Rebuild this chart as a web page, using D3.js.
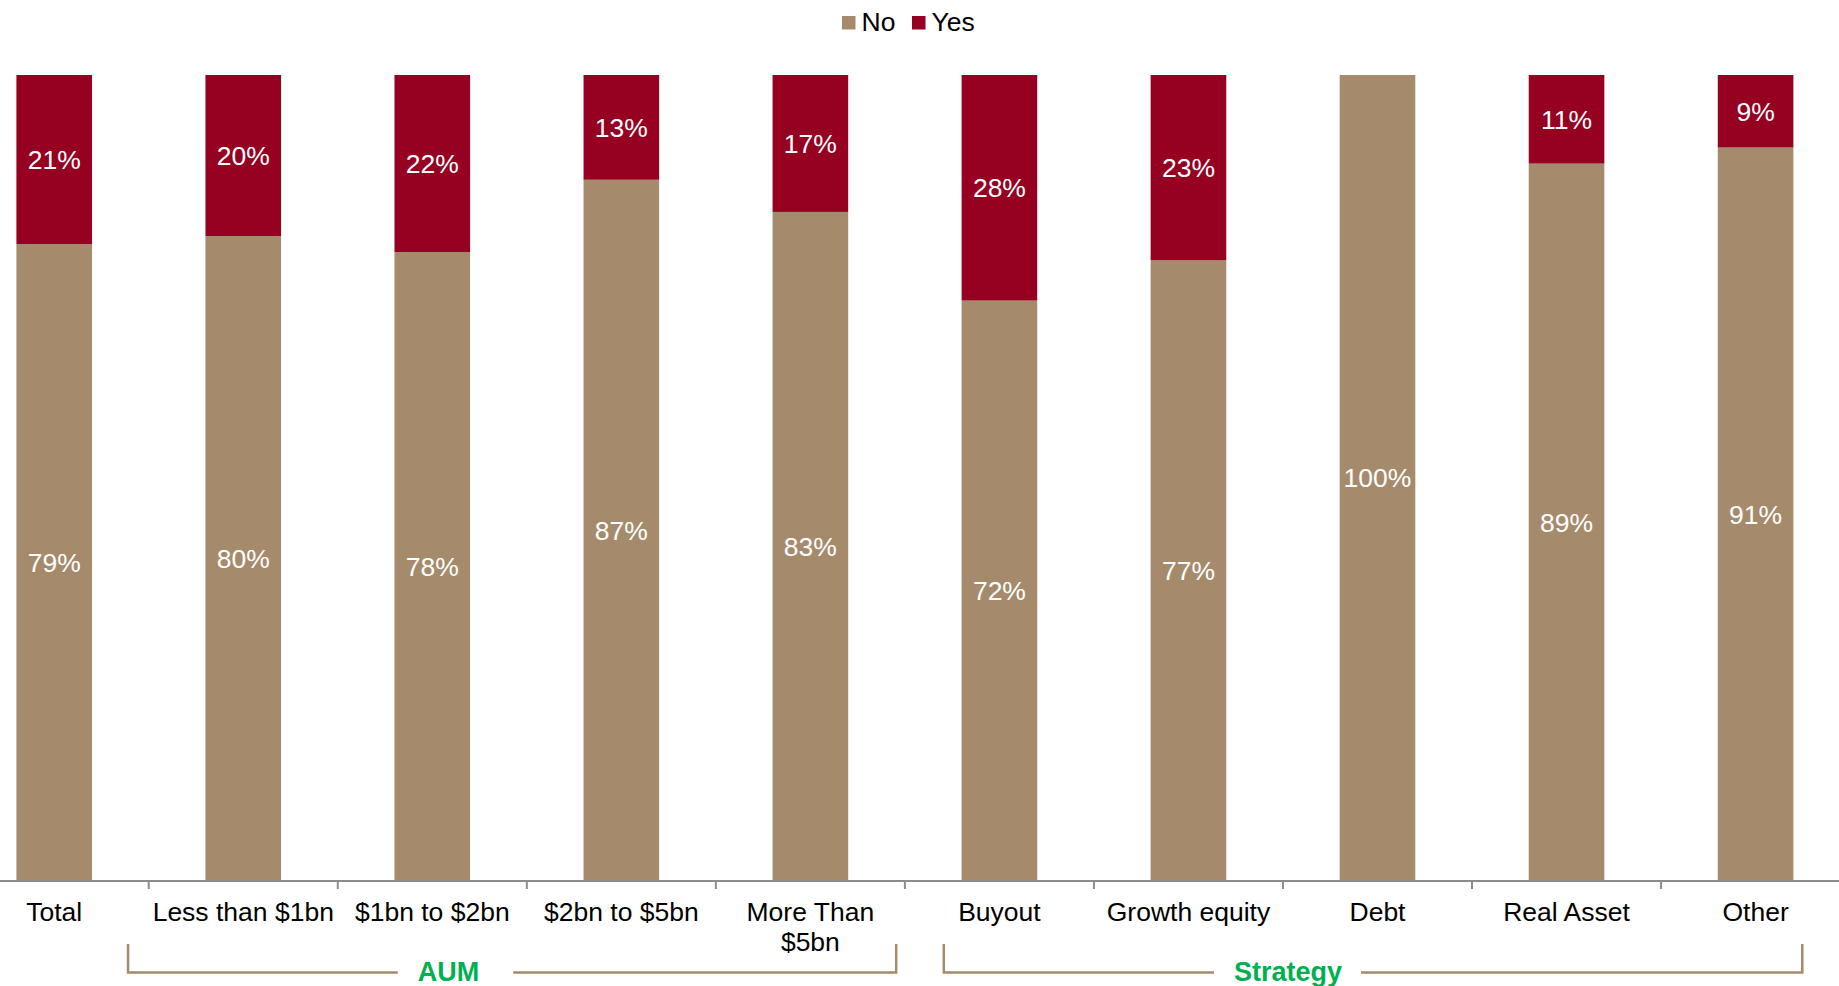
<!DOCTYPE html>
<html>
<head>
<meta charset="utf-8">
<script src="https://cdn.jsdelivr.net/npm/d3@7"></script>
<style>
  html, body { margin: 0; padding: 0; background: #fff; }
  svg { display: block; font-family: "Liberation Sans", Arial, sans-serif; }
</style>
</head>
<body>
<svg id="chart" width="1839" height="986"></svg>
<script>
// Share of respondents answering No / Yes, by firm size (AUM) and strategy
const categories = ["Total", "Less than $1bn", "$1bn to $2bn", "$2bn to $5bn", "More Than\n$5bn",
                    "Buyout", "Growth equity", "Debt", "Real Asset", "Other"];
const noValues  = [79, 80, 78, 87, 83, 72, 77, 100, 89, 91];
const yesValues = [21, 20, 22, 13, 17, 28, 23, 0, 11, 9];
const seriesNames = ["No", "Yes"];

// Category groupings shown under the axis
const groupNames = ["AUM", "Strategy"];
const groupFirst = [1, 5];
const groupLast  = [4, 9];

const colors = { No: "#A58B6B", Yes: "#960021" };
const axisColor = "#8C8C8C";
const groupColor = "#00B050";
const textSize = 26.5;

const W = 1839, H = 986;
const svg = d3.select("#chart");

const rows = categories.map((c, i) => ({ cat: c, No: noValues[i], Yes: yesValues[i] }));
const stacked = d3.stack().keys(seriesNames)(rows);

const x = d3.scaleBand()
  .domain(categories)
  .range([-40.3, 1850.1])
  .paddingInner(0.6)
  .paddingOuter(0.3);

const y = d3.scaleLinear().domain([0, 100]).range([880.5, 75]);

// Bars
const layers = svg.append("g").selectAll("g")
  .data(stacked)
  .join("g")
  .attr("fill", d => colors[d.key]);

layers.selectAll("rect")
  .data(d => d.map(p => ({ p, key: d.key })))
  .join("rect")
  .attr("x", d => x(d.p.data.cat))
  .attr("width", x.bandwidth())
  .attr("y", d => y(d.p[1]))
  .attr("height", d => y(d.p[0]) - y(d.p[1]));

// Value labels inside each segment
layers.selectAll("text")
  .data(d => d.filter(p => p[1] - p[0] > 0).map(p => ({ p, key: d.key })))
  .join("text")
  .attr("x", d => x(d.p.data.cat) + x.bandwidth() / 2)
  .attr("y", d => (y(d.p[0]) + y(d.p[1])) / 2 + textSize * 0.36)
  .attr("text-anchor", "middle")
  .attr("fill", "#fff")
  .attr("font-size", textSize)
  .text(d => (d.p[1] - d.p[0]) + "%");

// Category axis: baseline plus ticks between categories
const axisY = 881;
const step = x.step();
const gap = step - x.bandwidth();
const axisG = svg.append("g");
axisG.append("line")
  .attr("x1", 0).attr("x2", W)
  .attr("y1", axisY).attr("y2", axisY)
  .attr("stroke", axisColor).attr("stroke-width", 2);
axisG.selectAll("line.tick")
  .data(categories.slice(1))
  .join("line")
  .attr("class", "tick")
  .attr("x1", d => x(d) - gap / 2).attr("x2", d => x(d) - gap / 2)
  .attr("y1", axisY).attr("y2", axisY + 8)
  .attr("stroke", axisColor).attr("stroke-width", 2);

axisG.selectAll("text")
  .data(categories)
  .join("text")
  .attr("text-anchor", "middle")
  .attr("font-size", textSize)
  .attr("fill", "#000")
  .each(function (d) {
    const t = d3.select(this);
    d.split("\n").forEach((line, i) => {
      t.append("tspan")
        .attr("x", x(d) + x.bandwidth() / 2)
        .attr("y", 921 + i * 30)
        .text(line);
    });
  });

// Group brackets under the category labels
const bracketTop = 944, bracketBottom = 972.5;
const bracketLeftOffset  = [-115.2, -55.6];   // from first category centre
const bracketRightOffset = [85.8, 46.7];      // from last category centre
const groupLabelX = [448.5, 1288];
const labelPad = [[20, 34], [20, 19]];

const center = c => x(c) + x.bandwidth() / 2;
groupNames.forEach((name, gi) => {
  const g = svg.append("g");
  const left = center(categories[groupFirst[gi]]) + bracketLeftOffset[gi];
  const right = center(categories[groupLast[gi]]) + bracketRightOffset[gi];
  const label = g.append("text")
    .attr("x", groupLabelX[gi])
    .attr("y", 981)
    .attr("text-anchor", "middle")
    .attr("font-size", 27)
    .attr("font-weight", "bold")
    .attr("fill", groupColor)
    .text(name);
  const w = label.node().getComputedTextLength();
  const gapL = groupLabelX[gi] - w / 2 - labelPad[gi][0];
  const gapR = groupLabelX[gi] + w / 2 + labelPad[gi][1];
  g.append("path")
    .attr("d", `M${left},${bracketTop}V${bracketBottom}H${gapL}M${gapR},${bracketBottom}H${right}V${bracketTop}`)
    .attr("fill", "none")
    .attr("stroke", colors.No)
    .attr("stroke-width", 2.5);
});

// Legend
const legendX = [842, 912];
const legend = svg.append("g");
seriesNames.forEach((k, i) => {
  legend.append("rect")
    .attr("x", legendX[i]).attr("y", 16)
    .attr("width", 13.5).attr("height", 13.5)
    .attr("fill", colors[k]);
  legend.append("text")
    .attr("x", legendX[i] + 19.5).attr("y", 31)
    .attr("font-size", textSize)
    .attr("fill", "#000")
    .text(k);
});
</script>
</body>
</html>
